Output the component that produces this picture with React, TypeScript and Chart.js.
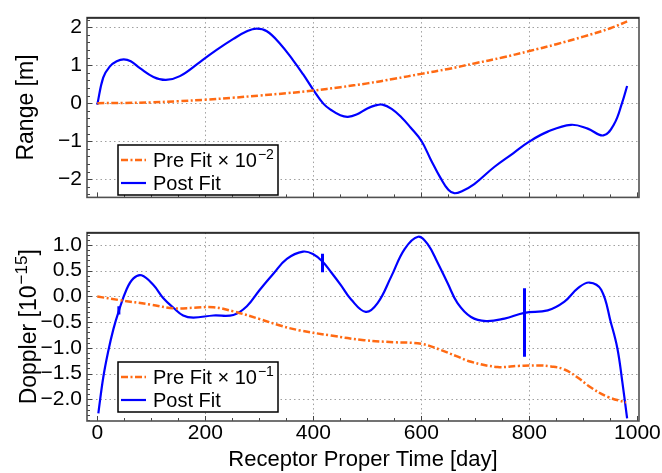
import { useEffect, useRef } from 'react';
import { Chart, registerables } from 'chart.js';

Chart.register(...registerables);

const FONT = '"Liberation Sans", Arial, Helvetica, sans-serif';
const ORANGE = '#ff6a13';
const BLUE = '#0000ff';

// shared x axis
const xMin = -19;
const xMax = 1003;
const xTicks = [0, 200, 400, 600, 800, 1000];
const xTickLabels = ['0', '200', '400', '600', '800', '1000'];
const xGrid = [200, 400, 600, 800];

// Range panel
const rangeYMin = -2.48;
const rangeYMax = 2.25;
const rangeYTicks = [-2, -1, 0, 1, 2];
const rangeYLabels = ['\u22122', '\u22121', '0', '1', '2'];

const rangePostDays = [0, 11, 23, 36, 49, 62, 79, 104, 127, 153, 190, 221, 252, 277, 295, 314, 338, 363, 381, 400, 419, 433, 450, 464, 480, 500, 515, 528, 545, 563, 580, 600, 618, 636, 650, 661, 676, 698, 735, 770, 799, 834, 877, 908, 937, 957, 972, 981];
const rangePostVals = [-0.04, 0.67, 0.96, 1.1, 1.15, 1.1, 0.92, 0.69, 0.61, 0.71, 1.08, 1.4, 1.69, 1.89, 1.96, 1.89, 1.57, 1.12, 0.76, 0.35, -0.02, -0.18, -0.32, -0.36, -0.3, -0.14, -0.06, -0.04, -0.15, -0.37, -0.64, -0.99, -1.5, -1.98, -2.28, -2.37, -2.31, -2.13, -1.68, -1.32, -1.02, -0.75, -0.57, -0.67, -0.85, -0.55, 0.02, 0.45];

const rangePreDays = [0, 50, 100, 150, 200, 250, 300, 350, 400, 450, 500, 550, 600, 650, 700, 750, 800, 850, 900, 950, 981];
const rangePreVals = [0, 0.005, 0.02, 0.05, 0.09, 0.14, 0.2, 0.26, 0.33, 0.42, 0.52, 0.64, 0.77, 0.9, 1.05, 1.2, 1.37, 1.55, 1.75, 1.97, 2.15];

// Doppler panel
const dopYMin = -2.42;
const dopYMax = 1.24;
const dopYTicks = [-2, -1.5, -1, -0.5, 0, 0.5, 1];
const dopYLabels = ['\u22122.0', '\u22121.5', '\u22121.0', '\u22120.5', '0.0', '0.5', '1.0'];

const dopPostDays = [2, 11, 20, 30, 40, 54, 67, 82, 104, 122, 141, 159, 178, 215, 252, 277, 301, 326, 351, 381, 400, 417, 433, 451, 470, 497, 519, 544, 569, 594, 612, 630, 649, 667, 692, 720, 754, 791, 834, 865, 890, 911, 933, 951, 963, 972, 981];
const dopPostVals = [-2.27, -1.58, -1.08, -0.63, -0.28, 0.13, 0.35, 0.41, 0.22, -0.03, -0.22, -0.37, -0.41, -0.37, -0.36, -0.19, 0.13, 0.44, 0.73, 0.87, 0.82, 0.68, 0.47, 0.22, -0.06, -0.3, -0.13, 0.38, 0.92, 1.16, 1.01, 0.66, 0.25, -0.13, -0.4, -0.48, -0.43, -0.32, -0.27, -0.1, 0.16, 0.27, 0.13, -0.51, -1.01, -1.65, -2.37];

// short vertical glitches on the post-fit Doppler curve: [day, top, bottom]
const dopSpikeDays = [40, 417, 791];
const dopSpikeTops = [-0.19, 0.83, 0.16];
const dopSpikeBottoms = [-0.35, 0.47, -1.17];

const dopPreDays = [0, 40, 100, 141, 180, 215, 252, 301, 340, 375, 433, 494, 550, 600, 636, 665, 692, 741, 780, 815, 840, 865, 890, 914, 945, 979];
const dopPreVals = [0, -0.07, -0.16, -0.23, -0.22, -0.21, -0.29, -0.44, -0.57, -0.66, -0.76, -0.85, -0.89, -0.92, -1.04, -1.16, -1.27, -1.37, -1.35, -1.34, -1.36, -1.42, -1.58, -1.77, -1.95, -2.06];

const pts = (xs: number[], ys: number[]) => xs.map((x, i) => ({ x, y: ys[i] }));

type PanelCfg = {
  yMin: number;
  yMax: number;
  yTicks: number[];
  yLabels: string[];
  yMinorStep: number;
  titleParts: [string, string, string];
  titleX: number;
  preExp: string;
  showX: boolean;
  legendTop: number;
};

function drawSup(ctx: CanvasRenderingContext2D, parts: [string, string, string], x: number, y: number, size: number, align: 'left' | 'center') {
  const big = `${size}px ${FONT}`;
  const small = `${Math.round(size * 0.72)}px ${FONT}`;
  ctx.font = big;
  const w1 = ctx.measureText(parts[0]).width;
  const w3 = ctx.measureText(parts[2]).width;
  ctx.font = small;
  const w2 = parts[1] ? ctx.measureText(parts[1]).width + 1 : 0;
  const total = w1 + w2 + w3;
  let sx = align === 'center' ? x - total / 2 : x;
  ctx.textAlign = 'left';
  ctx.textBaseline = 'alphabetic';
  ctx.font = big;
  ctx.fillText(parts[0], sx, y);
  sx += w1;
  if (parts[1]) {
    ctx.font = small;
    ctx.fillText(parts[1], sx + 1, y - size * 0.4);
    sx += w2;
  }
  ctx.font = big;
  ctx.fillText(parts[2], sx, y);
}

function panelPlugin(cfg: PanelCfg) {
  return {
    id: 'panelDecor',
    beforeDatasetsDraw(chart: any) {
      const { ctx, chartArea: a, scales } = chart;
      const x = scales.x;
      const y = scales.y;
      ctx.save();
      ctx.strokeStyle = '#a0a0a0';
      ctx.lineWidth = 1;
      ctx.setLineDash([1.5, 3]);
      for (const v of cfg.yTicks) {
        const py = Math.round(y.getPixelForValue(v)) + 0.5;
        ctx.beginPath();
        ctx.moveTo(a.left, py);
        ctx.lineTo(a.right, py);
        ctx.stroke();
      }
      for (const v of xGrid) {
        const px = Math.round(x.getPixelForValue(v)) + 0.5;
        ctx.beginPath();
        ctx.moveTo(px, a.top);
        ctx.lineTo(px, a.bottom);
        ctx.stroke();
      }
      ctx.restore();
    },
    afterDraw(chart: any) {
      const { ctx, chartArea: a, scales } = chart;
      const x = scales.x;
      const y = scales.y;
      ctx.save();
      // inward tick marks
      ctx.strokeStyle = '#444';
      ctx.lineWidth = 1;
      ctx.setLineDash([]);
      for (let v = 0; v <= 1000; v += 50) {
        const px = Math.round(x.getPixelForValue(v)) + 0.5;
        const len = v % 200 === 0 ? 5 : 3;
        ctx.beginPath();
        ctx.moveTo(px, a.bottom);
        ctx.lineTo(px, a.bottom - len);
        ctx.stroke();
      }
      const nMin = Math.ceil(cfg.yMin / cfg.yMinorStep);
      const nMax = Math.floor(cfg.yMax / cfg.yMinorStep);
      for (let n = nMin; n <= nMax; n++) {
        const v = n * cfg.yMinorStep;
        const major = cfg.yTicks.some((t) => Math.abs(t - v) < 1e-6);
        const py = Math.round(y.getPixelForValue(v)) + 0.5;
        ctx.beginPath();
        ctx.moveTo(a.left, py);
        ctx.lineTo(a.left + (major ? 5 : 3), py);
        ctx.stroke();
      }
      // frame
      ctx.strokeStyle = '#505050';
      ctx.lineWidth = 1.6;
      ctx.strokeRect(a.left, a.top, a.right - a.left, a.bottom - a.top);
      ctx.strokeStyle = '#000';
      ctx.lineWidth = 1;
      ctx.beginPath();
      ctx.moveTo(a.left, a.top + 0.5);
      ctx.lineTo(a.right, a.top + 0.5);
      ctx.stroke();

      // legend
      const lx = 118;
      const lt = cfg.legendTop;
      ctx.fillStyle = '#fff';
      ctx.fillRect(lx, lt, 160, 50);
      ctx.strokeStyle = '#000';
      ctx.lineWidth = 1.5;
      ctx.strokeRect(lx, lt, 160, 50);
      const r1 = lt + 15;
      const r2 = lt + 38;
      ctx.lineWidth = 2.5;
      ctx.strokeStyle = ORANGE;
      ctx.setLineDash([7, 2.5, 2, 2.5]);
      ctx.beginPath();
      ctx.moveTo(lx + 3, r1);
      ctx.lineTo(lx + 28, r1);
      ctx.stroke();
      ctx.setLineDash([]);
      ctx.strokeStyle = BLUE;
      ctx.lineWidth = 2.2;
      ctx.beginPath();
      ctx.moveTo(lx + 3, r2);
      ctx.lineTo(lx + 28, r2);
      ctx.stroke();
      ctx.fillStyle = '#000';
      drawSup(ctx, ['Pre Fit \u00d7 10', cfg.preExp, ''], lx + 35, r1 + 7, 20, 'left');
      drawSup(ctx, ['Post Fit', '', ''], lx + 35, r2 + 7, 20, 'left');

      // y title (rotated)
      ctx.save();
      ctx.translate(cfg.titleX, (a.top + a.bottom) / 2);
      ctx.rotate(-Math.PI / 2);
      drawSup(ctx, cfg.titleParts, 0, 8, 23, 'center');
      ctx.restore();

      // x title
      if (cfg.showX) {
        drawSup(ctx, ['Receptor Proper Time [day]', '', ''], (a.left + a.right) / 2, a.bottom + 45, 22, 'center');
      }
      ctx.restore();
    },
  };
}

function buildChart(canvas: HTMLCanvasElement, cfg: PanelCfg, datasets: any[], padding: any, xHeight: number) {
  return new Chart(canvas, {
    type: 'line',
    data: { datasets },
    options: {
      animation: false,
      responsive: false,
      devicePixelRatio: 1,
      layout: { padding },
      plugins: { legend: { display: false }, tooltip: { enabled: false } },
      elements: { point: { radius: 0 } },
      scales: {
        x: {
          type: 'linear',
          min: xMin,
          max: xMax,
          display: cfg.showX,
          grid: { display: false, drawTicks: false },
          border: { display: false },
          afterBuildTicks: (s: any) => {
            s.ticks = xTicks.map((v) => ({ value: v }));
          },
          afterFit: (s: any) => {
            s.height = xHeight;
          },
          ticks: {
            color: '#000',
            padding: 0,
            maxRotation: 0,
            autoSkip: false,
            font: { family: FONT, size: 21 },
            callback: (v: any) => {
              const i = xTicks.indexOf(Number(v));
              return i >= 0 ? xTickLabels[i] : '';
            },
          },
        },
        y: {
          type: 'linear',
          min: cfg.yMin,
          max: cfg.yMax,
          grid: { display: false, drawTicks: false },
          border: { display: false },
          afterBuildTicks: (s: any) => {
            s.ticks = cfg.yTicks.map((v) => ({ value: v }));
          },
          afterFit: (s: any) => {
            s.width = 87;
          },
          ticks: {
            color: '#000',
            padding: 5,
            autoSkip: false,
            font: { family: FONT, size: 21 },
            callback: (v: any) => {
              const i = cfg.yTicks.findIndex((t) => Math.abs(t - Number(v)) < 1e-6);
              return i >= 0 ? cfg.yLabels[i] : '';
            },
          },
        },
      },
    },
    plugins: [panelPlugin(cfg)],
  } as any);
}

const preStyle = {
  borderColor: ORANGE,
  borderWidth: 2.5,
  borderDash: [7, 2.5, 2, 2.5],
  tension: 0.4,
  fill: false,
};
const postStyle = { borderColor: BLUE, borderWidth: 2.2, tension: 0.4, fill: false };

export default function App() {
  const topRef = useRef<HTMLCanvasElement>(null);
  const botRef = useRef<HTMLCanvasElement>(null);

  useEffect(() => {
    const topCfg: PanelCfg = {
      yMin: rangeYMin,
      yMax: rangeYMax,
      yTicks: rangeYTicks,
      yLabels: rangeYLabels,
      yMinorStep: 0.2,
      titleParts: ['Range [m]', '', ''],
      titleX: 25,
      preExp: '\u22122',
      showX: false,
      legendTop: 145,
    };
    const botCfg: PanelCfg = {
      yMin: dopYMin,
      yMax: dopYMax,
      yTicks: dopYTicks,
      yLabels: dopYLabels,
      yMinorStep: 0.1,
      titleParts: ['Doppler [10', '\u221215', ']'],
      titleX: 28,
      preExp: '\u22121',
      showX: true,
      legendTop: 147,
    };
    const top = buildChart(
      topRef.current!,
      topCfg,
      [
        { ...preStyle, data: pts(rangePreDays, rangePreVals) },
        { ...postStyle, data: pts(rangePostDays, rangePostVals) },
      ],
      { left: 0, right: 23, top: 12, bottom: 9 },
      0
    );
    const spikes = dopSpikeDays.map((d, i) => ({
      borderColor: BLUE,
      borderWidth: 3,
      tension: 0,
      fill: false,
      data: [
        { x: d, y: dopSpikeTops[i] },
        { x: d, y: dopSpikeBottoms[i] },
      ],
    }));
    const bot = buildChart(
      botRef.current!,
      botCfg,
      [
        { ...preStyle, data: pts(dopPreDays, dopPreVals) },
        { ...postStyle, data: pts(dopPostDays, dopPostVals) },
        ...spikes,
      ],
      { left: 0, right: 23, top: 13, bottom: 0 },
      52
    );
    return () => {
      top.destroy();
      bot.destroy();
    };
  }, []);

  return (
    <div style={{ position: 'fixed', left: 0, top: 0, width: 662, height: 473, background: '#fff' }}>
      <canvas ref={topRef} width={662} height={215} style={{ position: 'absolute', left: 0, top: 0, width: 662, height: 215 }} />
      <canvas ref={botRef} width={662} height={258} style={{ position: 'absolute', left: 0, top: 215, width: 662, height: 258 }} />
    </div>
  );
}
